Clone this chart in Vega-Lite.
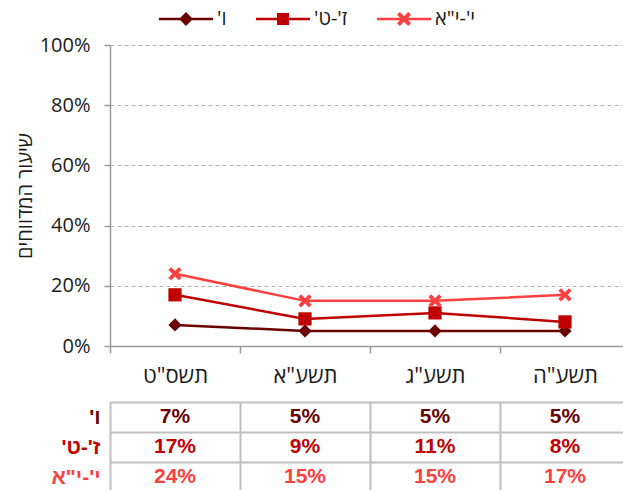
{
  "$schema": "https://vega.github.io/schema/vega-lite/v6.json",
  "padding": {"left": 15, "top": 9, "right": 0, "bottom": 0},
  "background": "white",
  "spacing": 5,
  "config": {"view": {"stroke": null}, "font": "Open Sans"},
  "datasets": {
    "d": [
      {"year": "תשס\"ט", "grade": "\u200fו'\u200f", "value": 0.07},
      {"year": "תשע\"א", "grade": "\u200fו'\u200f", "value": 0.05},
      {"year": "תשע\"ג", "grade": "\u200fו'\u200f", "value": 0.05},
      {"year": "תשע\"ה", "grade": "\u200fו'\u200f", "value": 0.05},
      {"year": "תשס\"ט", "grade": "\u200fז'-ט'\u200f", "value": 0.17},
      {"year": "תשע\"א", "grade": "\u200fז'-ט'\u200f", "value": 0.09},
      {"year": "תשע\"ג", "grade": "\u200fז'-ט'\u200f", "value": 0.11},
      {"year": "תשע\"ה", "grade": "\u200fז'-ט'\u200f", "value": 0.08},
      {"year": "תשס\"ט", "grade": "\u200fי'-י\"א\u200f", "value": 0.24},
      {"year": "תשע\"א", "grade": "\u200fי'-י\"א\u200f", "value": 0.15},
      {"year": "תשע\"ג", "grade": "\u200fי'-י\"א\u200f", "value": 0.15},
      {"year": "תשע\"ה", "grade": "\u200fי'-י\"א\u200f", "value": 0.17}
    ]
  },
  "vconcat": [
    {
      "width": 520,
      "height": 301,
      "data": {"name": "d"},
      "encoding": {
        "x": {
          "field": "year", "type": "nominal", "bandPosition": 0.5,
          "sort": ["תשס\"ט", "תשע\"א", "תשע\"ג", "תשע\"ה"],
          "scale": {"type": "band", "paddingInner": 0, "paddingOuter": 0},
          "axis": {"title": null, "labelAngle": 0, "labelFont": "Open Sans", "labelFontSize": 22, "labelColor": "#1a1a1a", "labelPadding": 12, "tickBand": "extent", "tickSize": 7, "tickColor": "#9a9a9a", "tickWidth": 1.5, "domainColor": "#9a9a9a", "domainWidth": 1.5, "grid": false}
        },
        "y": {
          "field": "value", "type": "quantitative",
          "scale": {"domain": [0, 1]},
          "axis": {"format": ".0%", "values": [0, 0.2, 0.4, 0.6, 0.8, 1], "labelFont": "Open Sans", "labelFontSize": 20, "labelColor": "#1a1a1a", "labelPadding": 14, "tickSize": 6, "tickColor": "#9a9a9a", "tickWidth": 1.5, "domainColor": "#9a9a9a", "domainWidth": 1.5, "gridColor": "#b0b0b0", "gridDash": [4, 3], "gridWidth": 1, "title": "שיעור המדווחים", "titleFont": "Open Sans", "titleFontSize": 20, "titleFontWeight": "normal", "titleColor": "#1a1a1a", "titlePadding": 4}
        }
      },
      "resolve": {"scale": {"shape": "independent"}, "legend": {"color": "independent", "shape": "independent"}},
      "layer": [
        {
          "mark": {"type": "line", "strokeWidth": 2.5},
          "encoding": {
            "color": {
              "field": "grade", "type": "nominal",
              "scale": {"domain": ["\u200fו'\u200f", "\u200fז'-ט'\u200f", "\u200fי'-י\"א\u200f"], "range": ["#6b0000", "#c00000", "#ff4040"]},
              "legend": null
            }
          }
        },
        {
          "mark": {"type": "point", "filled": true, "opacity": 1, "size": 175},
          "encoding": {
            "color": {
              "field": "grade", "type": "nominal",
              "scale": {"domain": ["\u200fו'\u200f", "\u200fז'-ט'\u200f", "\u200fי'-י\"א\u200f"], "range": ["#6b0000", "#c00000", "#ff4040"]},
              "legend": null
            },
            "shape": {
              "field": "grade", "type": "nominal",
              "scale": {"domain": ["\u200fו'\u200f", "\u200fז'-ט'\u200f", "\u200fי'-י\"א\u200f"], "range": ["diamond", "square", "M-1,-0.6L-0.6,-1L0,-0.4L0.6,-1L1,-0.6L0.4,0L1,0.6L0.6,1L0,0.4L-0.6,1L-1,0.6L-0.4,0Z"]},
              "legend": null
            }
          }
        },
        {
          "transform": [{"filter": "datum.value < 0"}],
          "mark": {"type": "point", "filled": true, "opacity": 1, "size": 196},
          "encoding": {
            "color": {
              "field": "grade", "type": "nominal",
              "scale": {"domain": ["\u200fו'\u200f", "\u200fז'-ט'\u200f", "\u200fי'-י\"א\u200f"], "range": ["#6b0000", "#c00000", "#ff4040"]},
              "legend": {"title": null, "orient": "none", "legendX": 66, "legendY": -36, "direction": "horizontal", "labelFont": "Open Sans", "labelFontSize": 20, "labelColor": "#1a1a1a", "symbolSize": 196, "symbolStrokeWidth": 0, "columnPadding": 28, "labelOffset": 21}
            },
            "shape": {
              "field": "grade", "type": "nominal",
              "scale": {"domain": ["\u200fו'\u200f", "\u200fז'-ט'\u200f", "\u200fי'-י\"א\u200f"], "range": ["M-3.86,-0.18L-0.82,-0.18L0,-1L0.82,-0.18L3.86,-0.18L3.86,0.18L0.82,0.18L0,1L-0.82,0.18L-3.86,0.18Z", "M-3.86,-0.18L-0.86,-0.18L-0.86,-0.86L0.86,-0.86L0.86,-0.18L3.86,-0.18L3.86,0.18L0.86,0.18L0.86,0.86L-0.86,0.86L-0.86,0.18L-3.86,0.18Z", "M-3.86,-0.18L3.86,-0.18L3.86,0.18L-3.86,0.18ZM-1,-0.6L-0.6,-1L0,-0.4L0.6,-1L1,-0.6L0.4,0L1,0.6L0.6,1L0,0.4L-0.6,1L-1,0.6L-0.4,0Z"]},
              "legend": {"title": null, "orient": "none", "legendX": 66, "legendY": -36, "direction": "horizontal", "labelFont": "Open Sans", "labelFontSize": 20, "labelColor": "#1a1a1a", "symbolSize": 196, "symbolStrokeWidth": 0, "columnPadding": 28, "labelOffset": 21}
            }
          }
        }
      ]
    },
    {
      "width": 520,
      "height": 90,
      "data": {"name": "d"},
      "mark": {"type": "text", "fontWeight": "bold", "fontSize": 21, "font": "Liberation Sans"},
      "encoding": {
        "x": {
          "field": "year", "type": "nominal",
          "sort": ["תשס\"ט", "תשע\"א", "תשע\"ג", "תשע\"ה"],
          "scale": {"type": "band", "paddingInner": 0, "paddingOuter": 0},
          "axis": {"title": null, "labels": false, "ticks": false, "domain": false, "grid": true, "tickBand": "extent", "gridColor": "#bfbfbf", "gridWidth": 2}
        },
        "y": {
          "field": "grade", "type": "nominal",
          "sort": ["\u200fו'\u200f", "\u200fז'-ט'\u200f", "\u200fי'-י\"א\u200f"],
          "scale": {"type": "band", "paddingInner": 0, "paddingOuter": 0},
          "axis": {"title": null, "domain": false, "ticks": false, "grid": true, "tickBand": "extent", "gridColor": "#bfbfbf", "gridWidth": 2, "labelFont": "Liberation Sans", "labelFontWeight": "bold", "labelFontSize": 21, "labelPadding": 10, "labelColor": {"expr": "datum.value == \"\u200fו'\u200f\" ? '#6b0000' : datum.value == \"\u200fז'-ט'\u200f\" ? '#c00000' : '#ff4040'"}}
        },
        "text": {"field": "value", "type": "quantitative", "format": ".0%"},
        "color": {
          "field": "grade", "type": "nominal",
          "scale": {"domain": ["\u200fו'\u200f", "\u200fז'-ט'\u200f", "\u200fי'-י\"א\u200f"], "range": ["#6b0000", "#c00000", "#ff4040"]},
          "legend": null
        }
      }
    }
  ]
}
